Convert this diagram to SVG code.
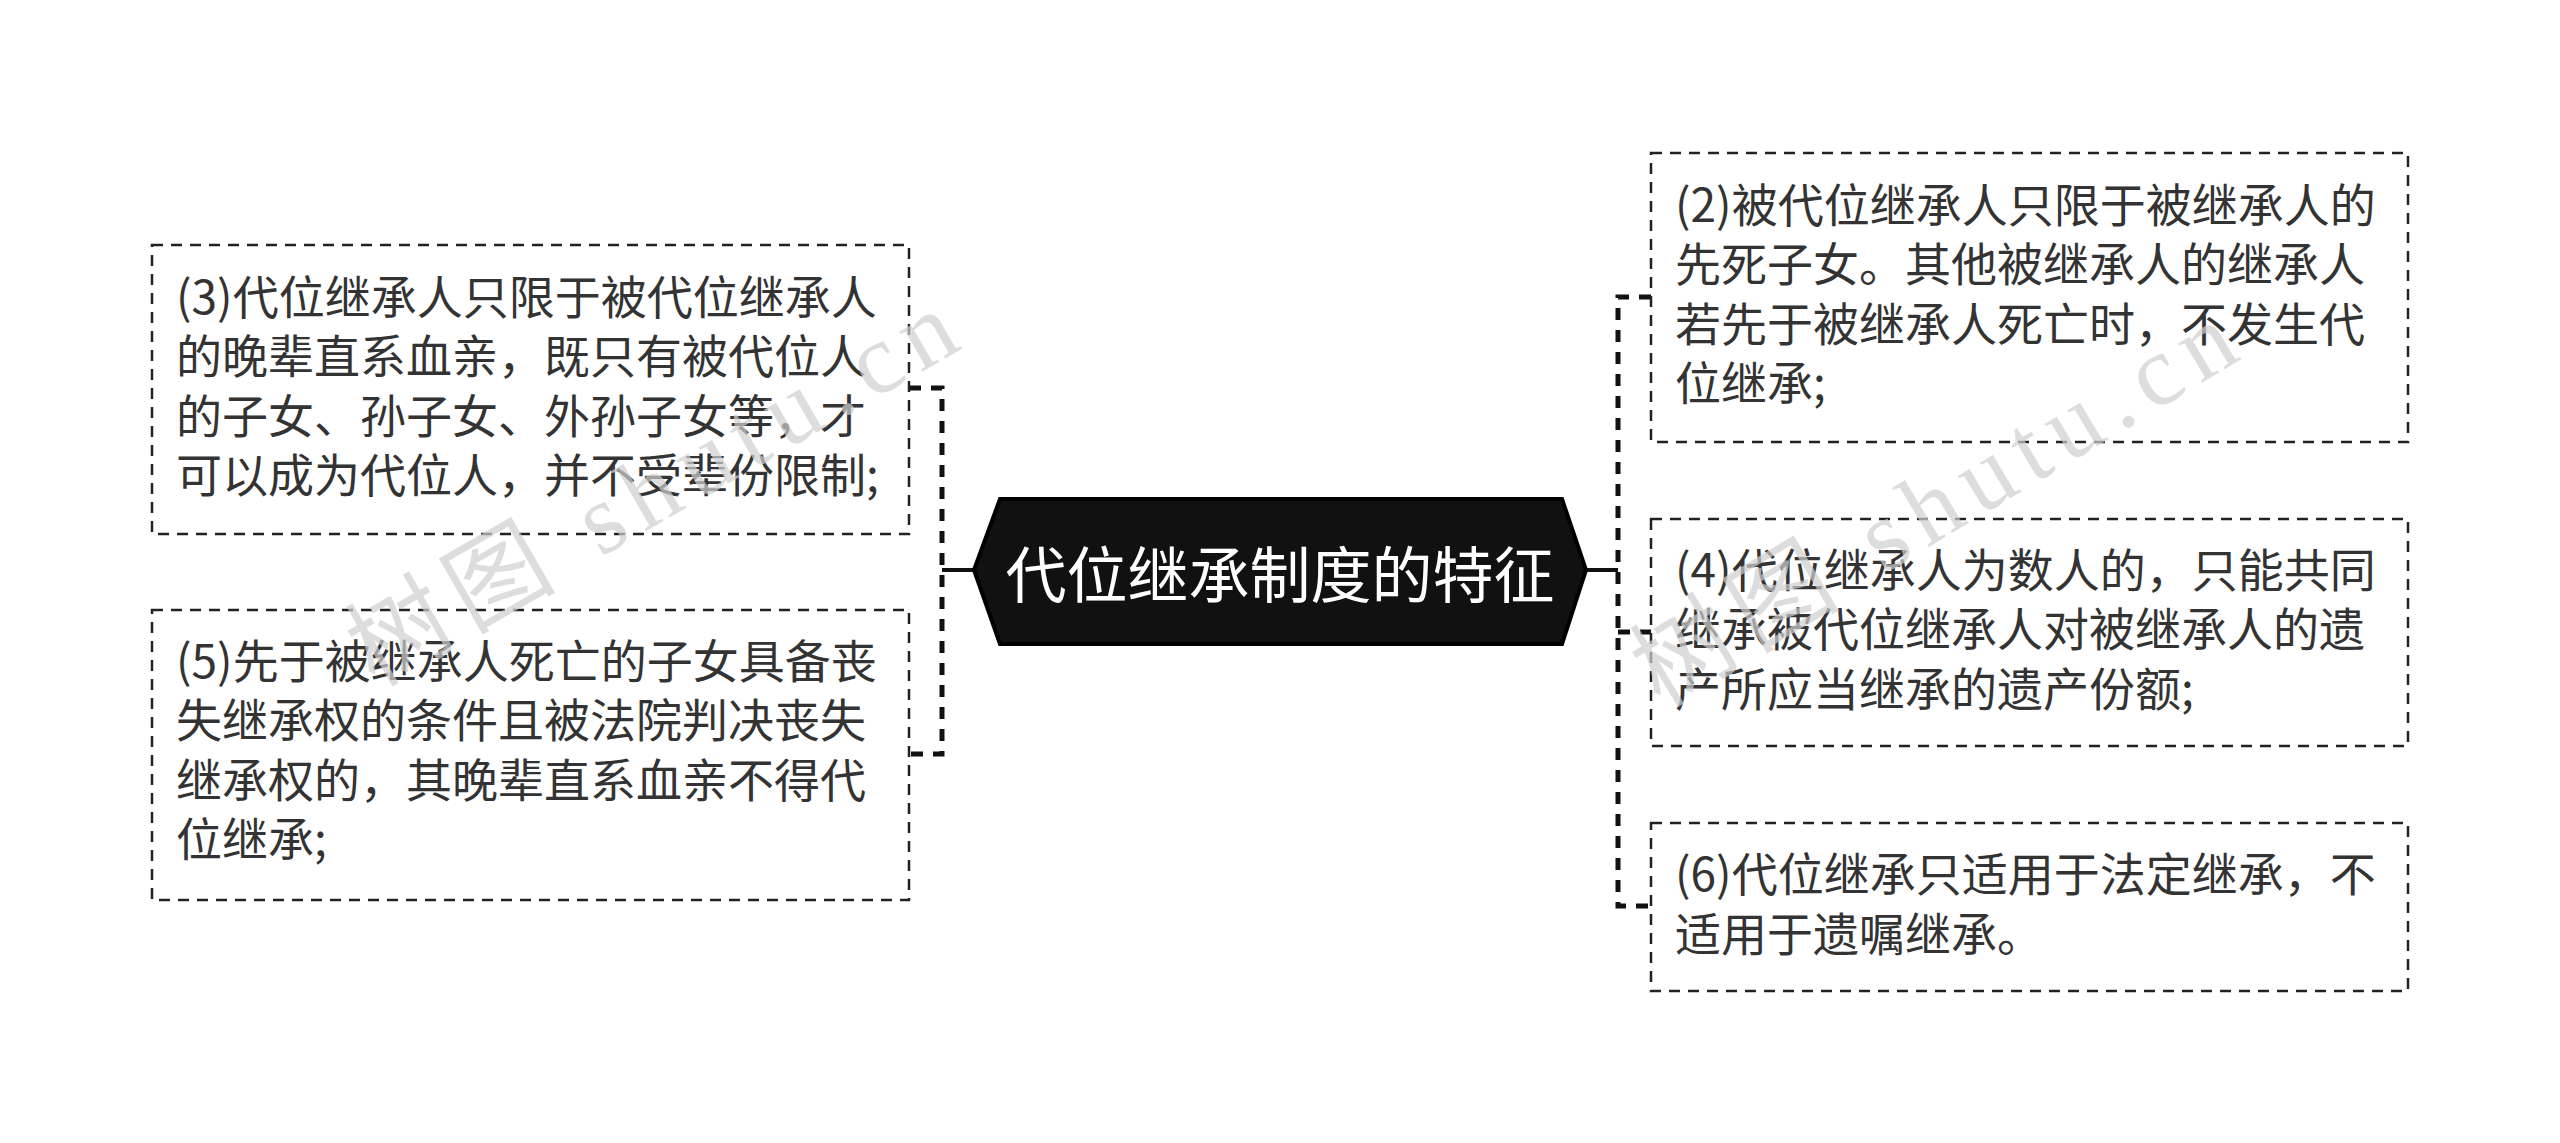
<svg xmlns="http://www.w3.org/2000/svg" width="2560" height="1143" viewBox="0 0 2560 1143">
<style>
.box{fill:#fff;stroke:#222;stroke-width:2.5;stroke-dasharray:11 8}
.t{font-family:"Noto Sans CJK SC","Microsoft YaHei",sans-serif;font-size:46px;fill:#333}
.c{fill:none;stroke:#111;stroke-width:5;stroke-dasharray:12 10}
.cs{fill:none;stroke:#111;stroke-width:4}
.wm{font-family:"Liberation Serif","Noto Sans CJK SC",serif;font-size:100px;fill:#cfcfcf;opacity:0.7}
</style>
<rect width="2560" height="1143" fill="#fff"/>
<g id="connectors">
<path class="cs" d="M974 570 H942"/>
<path class="c" d="M909 388 H942 V754 H909"/>
<path class="cs" d="M1586 570 H1618"/>
<path class="c" d="M1651 297 H1618 V906 H1651"/>
<path class="c" d="M1618 632 H1651"/>
</g>
<g id="center">
<polygon points="974,570 1000,499 1562,499 1586,570 1562,644 1000,644" fill="#111" stroke="#000" stroke-width="4"/>
<text x="1280" y="571" text-anchor="middle" dominant-baseline="central" font-family="Noto Sans CJK SC,sans-serif" font-size="61" fill="#fff">代位继承制度的特征</text>
</g>
<g id="n3">
<rect class="box" x="152" y="245" width="757" height="289"/>
<text class="t"><tspan x="176" y="314">(3)代位继承人只限于被代位继承人</tspan><tspan x="176" y="373">的晚辈直系血亲，既只有被代位人</tspan><tspan x="176" y="433">的子女、孙子女、外孙子女等，才</tspan><tspan x="176" y="492">可以成为代位人，并不受辈份限制;</tspan></text>
</g>
<g id="n5">
<rect class="box" x="152" y="610" width="757" height="290"/>
<text class="t"><tspan x="176" y="678">(5)先于被继承人死亡的子女具备丧</tspan><tspan x="176" y="737">失继承权的条件且被法院判决丧失</tspan><tspan x="176" y="797">继承权的，其晚辈直系血亲不得代</tspan><tspan x="176" y="856">位继承;</tspan></text>
</g>
<g id="n2">
<rect class="box" x="1651" y="153" width="757" height="289"/>
<text class="t"><tspan x="1675" y="222">(2)被代位继承人只限于被继承人的</tspan><tspan x="1675" y="281">先死子女。其他被继承人的继承人</tspan><tspan x="1675" y="341">若先于被继承人死亡时，不发生代</tspan><tspan x="1675" y="400">位继承;</tspan></text>
</g>
<g id="n4">
<rect class="box" x="1651" y="519" width="757" height="227"/>
<text class="t"><tspan x="1675" y="587">(4)代位继承人为数人的，只能共同</tspan><tspan x="1675" y="646">继承被代位继承人对被继承人的遗</tspan><tspan x="1675" y="706">产所应当继承的遗产份额;</tspan></text>
</g>
<g id="n6">
<rect class="box" x="1651" y="823" width="757" height="168"/>
<text class="t"><tspan x="1675" y="891">(6)代位继承只适用于法定继承，不</tspan><tspan x="1675" y="951">适用于遗嘱继承。</tspan></text>
</g>
<g id="watermark">
<text class="wm" x="653" y="522" text-anchor="middle" textLength="680" transform="rotate(-30 653 490)">树图 shutu.cn</text>
<text class="wm" x="1935" y="538" text-anchor="middle" textLength="680" transform="rotate(-31 1935 506)">树图 shutu.cn</text>
</g>
</svg>
